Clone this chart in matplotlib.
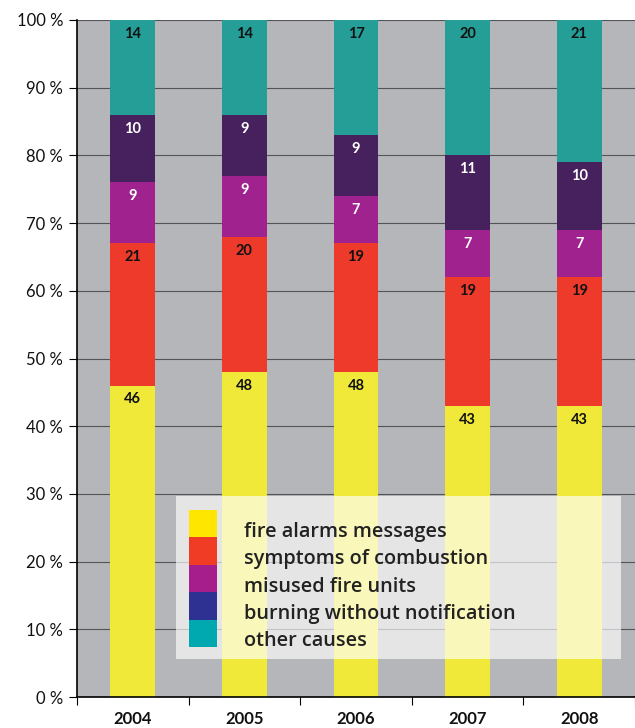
import matplotlib
matplotlib.use("Agg")
import matplotlib.pyplot as plt
from matplotlib.patches import Rectangle
import numpy as np

years = ["2004", "2005", "2006", "2007", "2008"]
categories = ["fire alarms messages", "symptoms of combustion", "misused fire units",
              "burning without notification", "other causes"]
fire_alarms = [46, 48, 48, 43, 43]
combustion = [21, 20, 19, 19, 19]
misused = [9, 9, 7, 7, 7]
burning = [10, 9, 9, 11, 10]
other = [14, 14, 17, 20, 21]
yticks = [0, 10, 20, 30, 40, 50, 60, 70, 80, 90, 100]
ytick_labels = [f"{v} %" for v in yticks]

series = [fire_alarms, combustion, misused, burning, other]
bar_colors = ["#f0e93a", "#ee3a2a", "#a0228e", "#47215e", "#259e97"]
legend_colors = ["#ffe600", "#f03c24", "#a51e8c", "#2e3192", "#00a9b0"]
label_colors = ["#111111", "#111111", "white", "white", "#111111"]

plt.rcParams['font.family'] = ['Lato', 'DejaVu Sans']
fig = plt.figure(figsize=(6.35, 7.28), dpi=100)
ax = fig.add_axes([77/635, 1-697/728, 1-77/635, (697-20)/728])
ax.set_facecolor("#b5b6ba")
fig.patch.set_facecolor("white")

x = np.arange(len(years))
bottom = np.zeros(len(years))
for vals, col, lc in zip(series, bar_colors, label_colors):
    vals = np.array(vals, dtype=float)
    ax.bar(x, vals, width=0.4, bottom=bottom, color=col, zorder=2, linewidth=0)
    for xi, b, v in zip(x, bottom, vals):
        ax.annotate(f"{int(v)}", (xi, b + v), xytext=(0, -10), textcoords="offset points",
                    ha="center", va="center", fontsize=10.5, fontweight="bold", color=lc, zorder=3)
    bottom += vals

ax.set_xlim(-0.5, 4.5)
ax.set_ylim(0, 100)
ax.set_yticks(yticks)
ax.set_yticklabels(ytick_labels, fontsize=12, color="#111111")
ax.yaxis.grid(True, color="#555555", linewidth=0.8, zorder=1)
ax.set_axisbelow(True)
ax.set_xticks(x)
ax.set_xticklabels(years, fontsize=12, fontweight="bold", color="#111111")
ax.set_xticks(np.arange(-0.5, 5, 1.0), minor=True)
ax.tick_params(axis="x", which="major", length=0, pad=10)
ax.tick_params(axis="x", which="minor", length=6, direction="out", width=0.8)
ax.tick_params(axis="y", length=6, width=0.8, pad=4)
for s in ["top", "right"]:
    ax.spines[s].set_visible(False)
ax.spines["left"].set_linewidth(1.2)
ax.spines["bottom"].set_linewidth(1.2)

# legend box
W, H = 635, 728
def fx(px): return px / W
def fy(py): return 1 - py / H
box = Rectangle((fx(176), fy(659)), fx(621) - fx(176), (659 - 496) / H,
                transform=fig.transFigure, facecolor="white", alpha=0.65,
                edgecolor="none", zorder=5)
fig.patches.append(box)
top = 510
step = 27.4
for i, (name, col) in enumerate(zip(categories, legend_colors)):
    y0 = top + i * step
    fig.patches.append(Rectangle((fx(189), fy(y0 + step)), fx(217) - fx(189), step / H,
                                 transform=fig.transFigure, facecolor=col,
                                 edgecolor="none", zorder=6))
    fig.text(fx(244), fy(y0 + step / 2 + 8), name, fontsize=14.3, color="#222222",
             family=["Open Sans", "DejaVu Sans"], fontweight="semibold",
             va="center", ha="left", zorder=7)

fig.savefig("out.png", dpi=100)
